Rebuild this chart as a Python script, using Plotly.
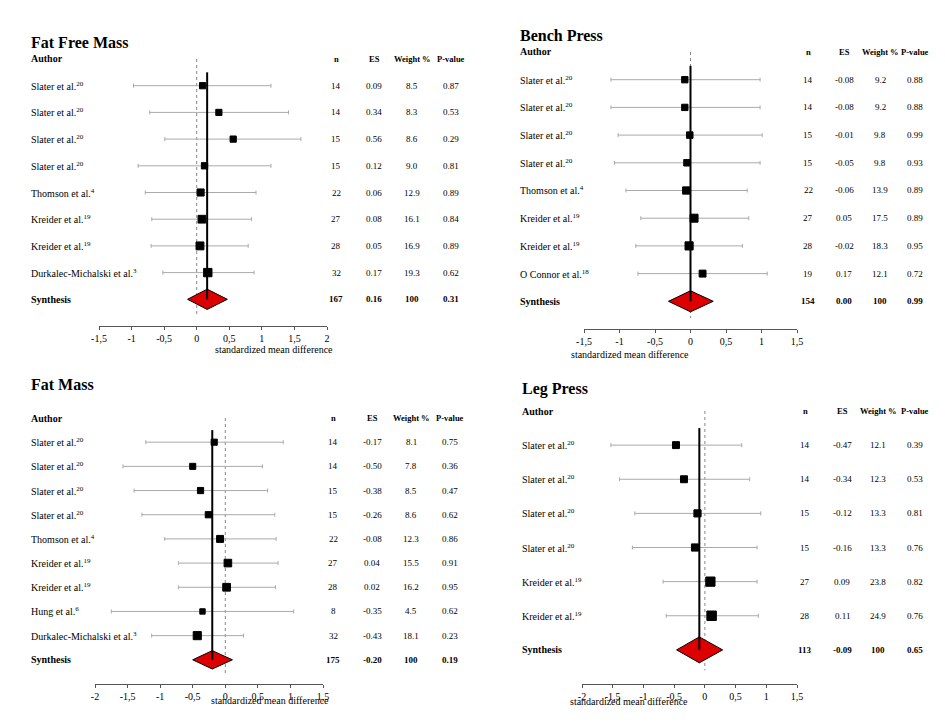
import plotly.graph_objects as go

# ---- data ----
ffm_authors = ["Slater et al.<sup>20</sup>", "Slater et al.<sup>20</sup>", "Slater et al.<sup>20</sup>",
               "Slater et al.<sup>20</sup>", "Thomson et al.<sup>4</sup>", "Kreider et al.<sup>19</sup>",
               "Kreider et al.<sup>19</sup>", "Durkalec-Michalski et al.<sup>3</sup>"]
ffm_n = [14, 14, 15, 15, 22, 27, 28, 32]
ffm_es = [0.09, 0.34, 0.56, 0.12, 0.06, 0.08, 0.05, 0.17]
ffm_lo = [-0.97, -0.72, -0.49, -0.90, -0.79, -0.69, -0.70, -0.52]
ffm_hi = [1.14, 1.41, 1.60, 1.14, 0.91, 0.84, 0.79, 0.88]
ffm_w = [8.5, 8.3, 8.6, 9.0, 12.9, 16.1, 16.9, 19.3]
ffm_p = ["0.87", "0.53", "0.29", "0.81", "0.89", "0.84", "0.89", "0.62"]
ffm_syn = dict(n=167, es=0.16, lo=-0.14, hi=0.47, p="0.31")

bp_authors = ["Slater et al.<sup>20</sup>", "Slater et al.<sup>20</sup>", "Slater et al.<sup>20</sup>",
              "Slater et al.<sup>20</sup>", "Thomson et al.<sup>4</sup>", "Kreider et al.<sup>19</sup>",
              "Kreider et al.<sup>19</sup>", "O Connor et al.<sup>18</sup>"]
bp_n = [14, 14, 15, 15, 22, 27, 28, 19]
bp_es = [-0.08, -0.08, -0.01, -0.05, -0.06, 0.05, -0.02, 0.17]
bp_lo = [-1.12, -1.12, -1.02, -1.07, -0.91, -0.70, -0.77, -0.74]
bp_hi = [0.98, 0.98, 1.01, 0.98, 0.80, 0.82, 0.73, 1.08]
bp_w = [9.2, 9.2, 9.8, 9.8, 13.9, 17.5, 18.3, 12.1]
bp_p = ["0.88", "0.88", "0.99", "0.93", "0.89", "0.89", "0.95", "0.72"]
bp_syn = dict(n=154, es=0.00, lo=-0.31, hi=0.32, p="0.99")

fm_authors = ["Slater et al.<sup>20</sup>", "Slater et al.<sup>20</sup>", "Slater et al.<sup>20</sup>",
              "Slater et al.<sup>20</sup>", "Thomson et al.<sup>4</sup>", "Kreider et al.<sup>19</sup>",
              "Kreider et al.<sup>19</sup>", "Hung et al.<sup>6</sup>", "Durkalec-Michalski et al.<sup>3</sup>"]
fm_n = [14, 14, 15, 15, 22, 27, 28, 8, 32]
fm_es = [-0.17, -0.50, -0.38, -0.26, -0.08, 0.04, 0.02, -0.35, -0.43]
fm_lo = [-1.22, -1.57, -1.40, -1.28, -0.93, -0.72, -0.72, -1.75, -1.13]
fm_hi = [0.89, 0.57, 0.65, 0.76, 0.78, 0.81, 0.77, 1.05, 0.28]
fm_w = [8.1, 7.8, 8.5, 8.6, 12.3, 15.5, 16.2, 4.5, 18.1]
fm_p = ["0.75", "0.36", "0.47", "0.62", "0.86", "0.91", "0.95", "0.62", "0.23"]
fm_syn = dict(n=175, es=-0.20, lo=-0.50, hi=0.11, p="0.19")

lp_authors = ["Slater et al.<sup>20</sup>", "Slater et al.<sup>20</sup>", "Slater et al.<sup>20</sup>",
              "Slater et al.<sup>20</sup>", "Kreider et al.<sup>19</sup>", "Kreider et al.<sup>19</sup>"]
lp_n = [14, 14, 15, 15, 27, 28]
lp_es = [-0.47, -0.34, -0.12, -0.16, 0.09, 0.11]
lp_lo = [-1.53, -1.39, -1.14, -1.18, -0.68, -0.63]
lp_hi = [0.60, 0.73, 0.91, 0.85, 0.85, 0.87]
lp_w = [12.1, 12.3, 13.3, 13.3, 23.8, 24.9]
lp_p = ["0.39", "0.53", "0.81", "0.76", "0.82", "0.76"]
lp_syn = dict(n=113, es=-0.09, lo=-0.46, hi=0.29, p="0.65")

ticks_ffm = [-1.5, -1, -0.5, 0, 0.5, 1, 1.5, 2]
ticks_bp = [-1.5, -1, -0.5, 0, 0.5, 1, 1.5]
ticks_fm = [-2, -1.5, -1, -0.5, 0, 0.5, 1, 1.5]
ticks_lp = [-2, -1.5, -1, -0.5, 0, 0.5, 1, 1.5]

W, H = 945, 722
FONT = "Liberation Serif"
fig = go.Figure()


def px(v):
    return v / W


def py(v):
    return 1 - v / H


def panel(k, title, authors, n, es, lo, hi, w, p, syn, ticks, geo):
    xa, ya = ("x", "y") if k == 1 else ("x%d" % k, "y%d" % k)
    rows = list(range(1, len(es) + 1))
    srow = len(es) + 1
    fig.add_trace(go.Scatter(
        x=es, y=rows, mode="markers", xaxis=xa, yaxis=ya, showlegend=False,
        marker=dict(symbol="square", color="black", opacity=1, size=[4.5 + wi * 0.2 for wi in w],
                    line=dict(color="black", width=1)),
        error_x=dict(type="data", symmetric=False,
                     array=[h - e for h, e in zip(hi, es)],
                     arrayminus=[e - l for e, l in zip(es, lo)],
                     color="#aaaaaa", thickness=1, width=2)))
    fig.add_trace(go.Scatter(
        x=[syn["lo"], syn["es"], syn["hi"], syn["es"], syn["lo"]],
        y=[srow, srow - 0.38, srow, srow + 0.38, srow],
        mode="lines", fill="toself", fillcolor="#dd0000",
        line=dict(color="black", width=1), xaxis=xa, yaxis=ya, showlegend=False))
    fig.add_shape(type="line", xref=xa, yref=ya, x0=0, x1=0, y0=0, y1=srow + 0.6,
                  line=dict(color="#888888", width=1, dash="dot"), layer="below")
    fig.add_shape(type="line", xref=xa, yref=ya, x0=syn["es"], x1=syn["es"], y0=0.5, y1=srow,
                  line=dict(color="black", width=2))
    fig.layout["xaxis" if k == 1 else "xaxis%d" % k] = dict(
        domain=[px(geo["x0"]), px(geo["x1"])], range=[ticks[0], ticks[-1]], anchor=ya,
        tickvals=ticks, ticktext=[str(t).replace(".", ",") for t in ticks], automargin=False,
        showline=True, linecolor="#555555", ticks="outside", ticklen=3, tickcolor="#555555",
        showgrid=False, zeroline=False, tickfont=dict(family=FONT, size=10, color="black"))
    fig.layout["yaxis" if k == 1 else "yaxis%d" % k] = dict(
        domain=[py(geo["ybot"]), py(geo["ytop"])], range=[geo["ymax"], 0], anchor=xa,
        visible=False, automargin=False)
    cols = geo["cols"]
    ann = lambda x, y, t, bold=False, anchor="center", size=10: fig.add_annotation(
        x=x, y=y, xref="paper", yref=ya, text="<b>%s</b>" % t if bold else t, showarrow=False,
        xanchor=anchor, font=dict(family=FONT, size=size, color="black"))
    ann(px(geo["lab"]), 0, "Author", True, "left")
    for c, h in zip(cols, ["n", "ES", "Weight %", "P-value"]):
        ann(px(c), 0, h, True, size=8.5)
    for i, r in enumerate(rows):
        ann(px(geo["lab"]), r, authors[i], anchor="left")
        ann(px(cols[0]), r, str(n[i]), size=9)
        ann(px(cols[1]), r, "%.2f" % es[i], size=9)
        ann(px(cols[2]), r, "%.1f" % w[i], size=9)
        ann(px(cols[3]), r, p[i], size=9)
    ann(px(geo["lab"]), srow, "Synthesis", True, "left")
    for c, t in zip(cols, [str(syn["n"]), "%.2f" % syn["es"], "100", syn["p"]]):
        ann(px(c), srow, t, True, size=9)
    fig.add_annotation(x=px(geo["lab"]), y=py(geo["title"]), xref="paper", yref="paper",
                       text="<b>%s</b>" % title, showarrow=False, xanchor="left",
                       font=dict(family=FONT, size=16, color="black"))
    fig.add_annotation(x=px((geo["x0"] + geo["x1"]) / 2), y=py(geo["xlab"]), xref="paper", yref="paper",
                       text="standardized mean difference", showarrow=False,
                       font=dict(family=FONT, size=10, color="black"))


panel(1, "Fat Free Mass", ffm_authors, ffm_n, ffm_es, ffm_lo, ffm_hi, ffm_w, ffm_p, ffm_syn, ticks_ffm,
      dict(x0=91, x1=319, ytop=51, ybot=318, ymax=10, lab=21, title=24, xlab=342,
           cols=[328, 366, 404, 443]))
panel(2, "Bench Press", bp_authors, bp_n, bp_es, bp_lo, bp_hi, bp_w, bp_p, bp_syn, ticks_bp,
      dict(x0=576, x1=789, ytop=44, ybot=321, ymax=10, lab=510, title=17, xlab=346,
           cols=[800, 836, 872, 907]))
panel(3, "Fat Mass", fm_authors, fm_n, fm_es, fm_lo, fm_hi, fm_w, fm_p, fm_syn, ticks_fm,
      dict(x0=87, x1=315, ytop=410, ybot=676, ymax=11, lab=21, title=376, xlab=700,
           cols=[325, 364, 403, 442]))
panel(4, "Leg Press", lp_authors, lp_n, lp_es, lp_lo, lp_hi, lp_w, lp_p, lp_syn, ticks_lp,
      dict(x0=574, x1=789, ytop=403, ybot=676, ymax=8, lab=512, title=381, xlab=701,
           cols=[797, 834, 870, 907]))

fig.update_layout(width=W, height=H, margin=dict(l=0, r=0, t=0, b=0, pad=0),
                  plot_bgcolor="white", paper_bgcolor="white")
fig.write_html("out.html")
